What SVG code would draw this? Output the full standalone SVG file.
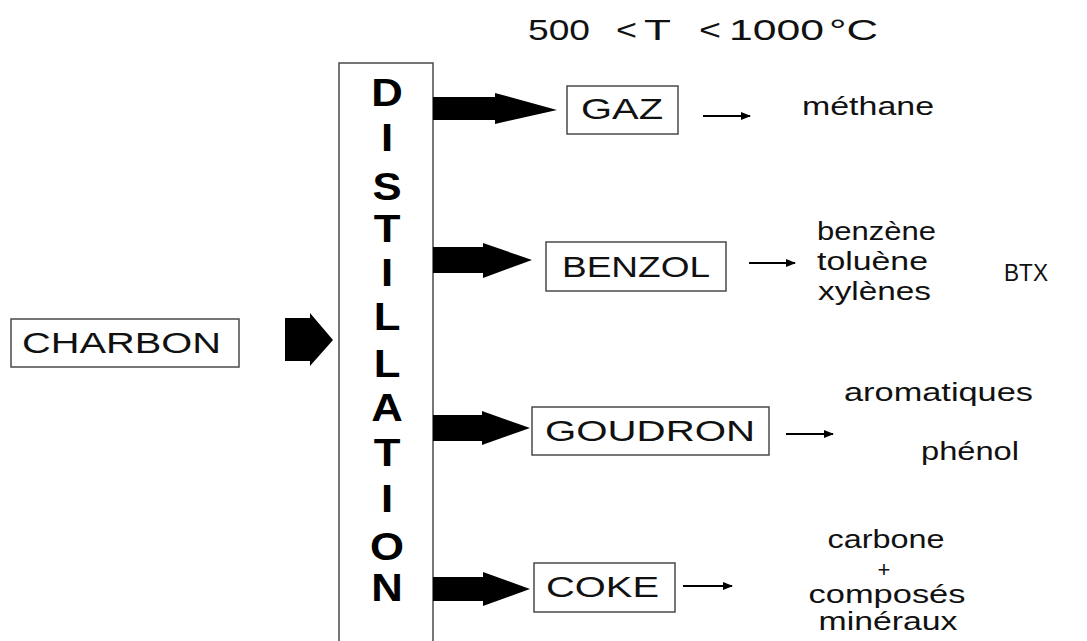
<svg xmlns="http://www.w3.org/2000/svg" width="1087" height="641" viewBox="0 0 1087 641">
<defs>
<style>
.box{fill:#fff;stroke:#4a4a4a;stroke-width:1.5}
.lbl{font-family:"Liberation Sans",Arial,sans-serif;font-size:30px;fill:#111}
.sm{font-family:"Liberation Sans",Arial,sans-serif;font-size:25px;fill:#111}
.mid{text-anchor:middle}
.dl{font-family:"Liberation Sans",Arial,sans-serif;font-size:38px;font-weight:bold;fill:#000;text-anchor:middle}
.big{fill:#000}
.thin{stroke:#000;stroke-width:2;fill:none}
</style>
<marker id="ah" markerUnits="userSpaceOnUse" markerWidth="10" markerHeight="8" refX="9" refY="4" orient="auto">
<path d="M0,0 L10,4 L0,8 Z" fill="#000"/>
</marker>
</defs>
<rect width="1087" height="641" fill="#fff"/>

<g id="temperature">
<text class="lbl" x="528" y="40" textLength="62" lengthAdjust="spacingAndGlyphs">500</text>
<text class="lbl" x="616" y="40" textLength="21" lengthAdjust="spacingAndGlyphs">&lt;</text>
<text class="lbl" x="644" y="40" textLength="27" lengthAdjust="spacingAndGlyphs">T</text>
<text class="lbl" x="699" y="40" textLength="22" lengthAdjust="spacingAndGlyphs">&lt;</text>
<text class="lbl" x="729" y="40" textLength="95" lengthAdjust="spacingAndGlyphs">1000</text>
<text class="lbl" x="829" y="40" textLength="49" lengthAdjust="spacingAndGlyphs">°C</text>
</g>

<g id="charbon">
<rect class="box" x="11" y="319" width="228" height="48"/>
<text class="lbl" x="22" y="353" textLength="199" lengthAdjust="spacingAndGlyphs">CHARBON</text>
</g>

<g id="distillation">
<rect class="box" x="339" y="63" width="94" height="590"/>
<g transform="translate(387,0) scale(1.15,1)">
<text class="dl" x="0" y="106">D</text>
<text class="dl" x="0" y="151">I</text>
<text class="dl" x="0" y="200">S</text>
<text class="dl" x="0" y="242">T</text>
<text class="dl" x="0" y="286">I</text>
<text class="dl" x="0" y="330">L</text>
<text class="dl" x="0" y="377">L</text>
<text class="dl" x="0" y="421">A</text>
<text class="dl" x="0" y="466">T</text>
<text class="dl" x="0" y="512">I</text>
<text class="dl" x="0" y="560">O</text>
<text class="dl" x="0" y="601">N</text>
</g>
</g>

<g id="gaz">
<rect class="box" x="567" y="86" width="111" height="48"/>
<text class="lbl" x="581" y="119" textLength="82" lengthAdjust="spacingAndGlyphs">GAZ</text>
</g>
<g id="benzol">
<rect class="box" x="546" y="242" width="180" height="49"/>
<text class="lbl" x="562" y="277" textLength="148" lengthAdjust="spacingAndGlyphs">BENZOL</text>
</g>
<g id="goudron">
<rect class="box" x="532" y="407" width="237" height="48"/>
<text class="lbl" x="545" y="441" textLength="210" lengthAdjust="spacingAndGlyphs">GOUDRON</text>
</g>
<g id="coke">
<rect class="box" x="534" y="563" width="141" height="49"/>
<text class="lbl" x="546" y="597" textLength="113" lengthAdjust="spacingAndGlyphs">COKE</text>
</g>

<g id="produits-gaz">
<text class="sm" x="802" y="115" textLength="132" lengthAdjust="spacingAndGlyphs">méthane</text>
</g>
<g id="produits-benzol">
<text class="sm" x="817" y="240" textLength="119" lengthAdjust="spacingAndGlyphs">benzène</text>
<text class="sm" x="817" y="270" textLength="111" lengthAdjust="spacingAndGlyphs">toluène</text>
<text class="sm" x="818" y="300" textLength="113" lengthAdjust="spacingAndGlyphs">xylènes</text>
<text class="sm" x="1004" y="281" style="font-size:23px" textLength="44" lengthAdjust="spacingAndGlyphs">BTX</text>
</g>
<g id="produits-goudron">
<text class="sm" x="844" y="401" textLength="189" lengthAdjust="spacingAndGlyphs">aromatiques</text>
<text class="sm" x="921" y="460" textLength="98" lengthAdjust="spacingAndGlyphs">phénol</text>
</g>
<g id="produits-coke">
<text class="sm mid" x="886" y="548" textLength="117" lengthAdjust="spacingAndGlyphs">carbone</text>
<text class="sm mid" x="884" y="577" style="font-size:22px">+</text>
<text class="sm mid" x="887" y="603" textLength="157" lengthAdjust="spacingAndGlyphs">composés</text>
<text class="sm mid" x="888" y="630" textLength="139" lengthAdjust="spacingAndGlyphs">minéraux</text>
</g>

<g id="connectors">
<path class="big" d="M285,318 H310 V313 L333,340 L310,366 V361 H285 Z"/>
<path class="big" d="M433,97 H495 V93 L557,110 L495,124 V120 H433 Z"/>
<path class="big" d="M433,247 H483 V243 L532,260 L483,278 V273 H433 Z"/>
<path class="big" d="M433,415 H482 V411 L530,428 L482,445 V441 H433 Z"/>
<path class="big" d="M433,577 H483 V572 L530,589 L483,606 V601 H433 Z"/>
<line class="thin" x1="703" y1="116" x2="750" y2="116" marker-end="url(#ah)"/>
<line class="thin" x1="749" y1="263" x2="795" y2="263" marker-end="url(#ah)"/>
<line class="thin" x1="786" y1="434" x2="833" y2="434" marker-end="url(#ah)"/>
<line class="thin" x1="683" y1="586" x2="732" y2="586" marker-end="url(#ah)"/>
</g>
</svg>
